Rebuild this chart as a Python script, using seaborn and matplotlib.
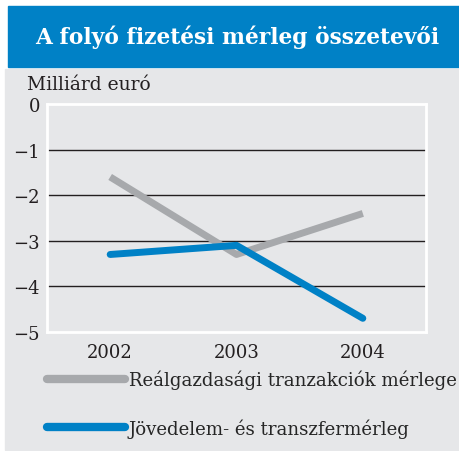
import matplotlib
matplotlib.use("Agg")
import matplotlib.pyplot as plt
from matplotlib.patches import Rectangle
from matplotlib.lines import Line2D
import seaborn as sns
import pandas as pd

# adatok
evek = [2002, 2003, 2004]
realgazdasagi = [-1.6, -3.3, -2.4]
jovedelem = [-3.3, -3.1, -4.7]
sorozatok = ["Reálgazdasági tranzakciók mérlege", "Jövedelem- és transzfermérleg"]
y_ticks = [0, -1, -2, -3, -4, -5]

data = pd.DataFrame({
    "Év": evek * 2,
    "Érték": realgazdasagi + jovedelem,
    "Sorozat": [sorozatok[0]] * 3 + [sorozatok[1]] * 3,
})

kek = "#0081C6"
szurke = "#A7A9AC"
hatter = "#E6E7E9"

sns.set_style("white")
plt.rcParams["font.family"] = ["DejaVu Serif"]

W, H = 460, 452
fig = plt.figure(figsize=(4.6, 4.52), dpi=100)
fig.patch.set_facecolor("white")

# háttér és fejléc
fig.patches.append(Rectangle((5 / W, 1 - 451 / H), 455 / W, 381 / H,
                             transform=fig.transFigure, color=hatter, zorder=-2))
fig.patches.append(Rectangle((8 / W, 1 - 68 / H), 452 / W, 61 / H,
                             transform=fig.transFigure, color=kek, zorder=-2))
fig.text(237 / W, 1 - 37 / H, "A folyó fizetési mérleg összetevői", color="white",
         fontsize=15.7, fontweight="bold", ha="center", va="center")
fig.text(27 / W, 1 - 85 / H, "Milliárd euró", fontsize=13.5, ha="left", va="center",
         color="#231F20")

ax = fig.add_axes([47 / W, 1 - 333 / H, 379 / W, 228 / H])
ax.set_zorder(1)
ax.set_facecolor(hatter)

sns.lineplot(data=data, x="Év", y="Érték", hue="Sorozat",
             palette=[szurke, kek], linewidth=5, legend=False, ax=ax)
ax.lines[0].set_solid_capstyle("butt")
ax.lines[1].set_solid_capstyle("round")
ax.lines[1].set_solid_joinstyle("round")

for v in y_ticks[1:-1]:
    ax.axhline(v, color="#231F20", linewidth=1, zorder=0.5)

ax.set_xlim(2001.5, 2004.5)
ax.set_ylim(-5, 0)
ax.set_xticks(evek)
ax.set_xticklabels([str(e) for e in evek])
ax.set_yticks(y_ticks)
ax.set_yticklabels(["0" if v == 0 else "\u2212" + str(-v) for v in y_ticks])
ax.tick_params(axis="both", length=0, labelsize=13, colors="#231F20")
ax.tick_params(axis="x", pad=8)
ax.tick_params(axis="y", pad=5)
ax.set_xlabel("")
ax.set_ylabel("")
for s in ax.spines.values():
    s.set_color("white")
    s.set_linewidth(2)

handles = [
    Line2D([], [], color=szurke, linewidth=6, solid_capstyle="round"),
    Line2D([], [], color=kek, linewidth=6, solid_capstyle="round"),
]
fig.legend(handles, sorozatok, loc="upper left", bbox_to_anchor=(47 / W, 1 - 371 / H),
           frameon=False, fontsize=13.1, handlelength=4.3, handletextpad=0.2,
           labelspacing=1.57, borderaxespad=0, borderpad=0)

fig.savefig("out.png", dpi=100)
